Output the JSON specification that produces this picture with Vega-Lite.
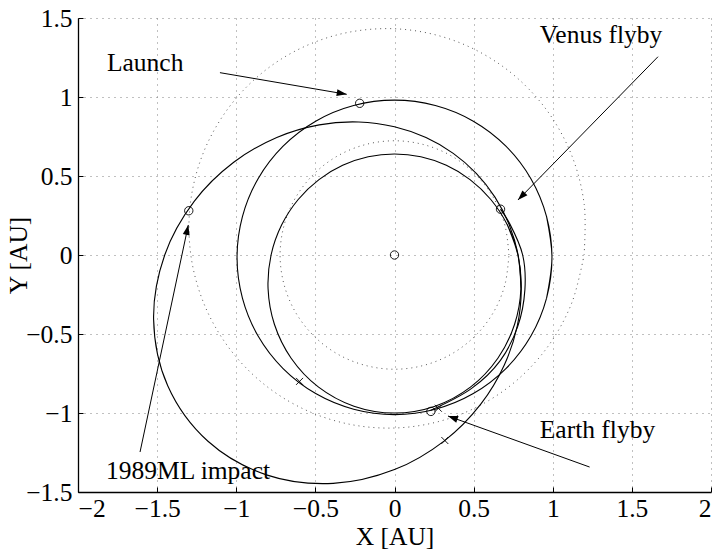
{
  "$schema": "https://vega.github.io/schema/vega-lite/v6.json",
  "width": 633,
  "height": 474,
  "autosize": {"type": "none"},
  "padding": {"left": 78, "top": 18, "right": 7, "bottom": 60},
  "background": "white",
  "config": {
    "view": {"stroke": null},
    "font": "Liberation Serif",
    "axis": {
      "labelFont": "Liberation Serif",
      "labelFontSize": 25.5,
      "labelColor": "black",
      "titleFont": "Liberation Serif",
      "titleFontSize": 25.5,
      "titleFontWeight": "normal",
      "titleColor": "black",
      "domainColor": "black",
      "domainWidth": 1.3,
      "tickColor": "black",
      "tickSize": -5,
      "grid": true,
      "gridColor": "#808080",
      "gridDash": [1, 5],
      "gridWidth": 1,
      "format": "~g"
    }
  },
  "datasets": {
    "solid": [
      {"o": "Earth", "i": 0, "x": 0.961, "y": -0.273},
      {"o": "Earth", "i": 1, "x": 0.995, "y": -0.015},
      {"o": "Earth", "i": 2, "x": 0.961, "y": 0.243},
      {"o": "Earth", "i": 3, "x": 0.862, "y": 0.483},
      {"o": "Earth", "i": 4, "x": 0.704, "y": 0.689},
      {"o": "Earth", "i": 5, "x": 0.498, "y": 0.847},
      {"o": "Earth", "i": 6, "x": 0.258, "y": 0.946},
      {"o": "Earth", "i": 7, "x": 0, "y": 0.98},
      {"o": "Earth", "i": 8, "x": -0.258, "y": 0.946},
      {"o": "Earth", "i": 9, "x": -0.498, "y": 0.847},
      {"o": "Earth", "i": 10, "x": -0.704, "y": 0.689},
      {"o": "Earth", "i": 11, "x": -0.862, "y": 0.483},
      {"o": "Earth", "i": 12, "x": -0.961, "y": 0.243},
      {"o": "Earth", "i": 13, "x": -0.995, "y": -0.015},
      {"o": "Earth", "i": 14, "x": -0.961, "y": -0.273},
      {"o": "Earth", "i": 15, "x": -0.862, "y": -0.513},
      {"o": "Earth", "i": 16, "x": -0.704, "y": -0.719},
      {"o": "Earth", "i": 17, "x": -0.498, "y": -0.877},
      {"o": "Earth", "i": 18, "x": -0.258, "y": -0.976},
      {"o": "Earth", "i": 19, "x": 0, "y": -1.01},
      {"o": "Earth", "i": 20, "x": 0.258, "y": -0.976},
      {"o": "Earth", "i": 21, "x": 0.498, "y": -0.877},
      {"o": "Earth", "i": 22, "x": 0.704, "y": -0.719},
      {"o": "Earth", "i": 23, "x": 0.862, "y": -0.513},
      {"o": "Earth", "i": 24, "x": 0.961, "y": -0.273},
      {"o": "Earth", "i": 25, "x": 0.995, "y": -0.015},
      {"o": "Earth", "i": 26, "x": 0.961, "y": 0.243},

      {"o": "Transfer", "i": 0, "x": 0.7989, "y": -0.2141},
      {"o": "Transfer", "i": 1, "x": 0.78, "y": 0},
      {"o": "Transfer", "i": 2, "x": 0.7128, "y": 0.191},
      {"o": "Transfer", "i": 3, "x": 0.6086, "y": 0.3514},
      {"o": "Transfer", "i": 4, "x": 0.4773, "y": 0.4773},
      {"o": "Transfer", "i": 5, "x": 0.3276, "y": 0.5674},
      {"o": "Transfer", "i": 6, "x": 0.1665, "y": 0.6214},
      {"o": "Transfer", "i": 7, "x": 0, "y": 0.6393},
      {"o": "Transfer", "i": 8, "x": -0.1665, "y": 0.6214},
      {"o": "Transfer", "i": 9, "x": -0.3276, "y": 0.5674},
      {"o": "Transfer", "i": 10, "x": -0.4773, "y": 0.4773},
      {"o": "Transfer", "i": 11, "x": -0.6086, "y": 0.3514},
      {"o": "Transfer", "i": 12, "x": -0.7128, "y": 0.191},
      {"o": "Transfer", "i": 13, "x": -0.78, "y": 0},
      {"o": "Transfer", "i": 14, "x": -0.7989, "y": -0.2141},
      {"o": "Transfer", "i": 15, "x": -0.759, "y": -0.4382},
      {"o": "Transfer", "i": 16, "x": -0.6531, "y": -0.6531},
      {"o": "Transfer", "i": 17, "x": -0.4818, "y": -0.8345},
      {"o": "Transfer", "i": 18, "x": -0.2563, "y": -0.9567},
      {"o": "Transfer", "i": 19, "x": 0, "y": -1.0},
      {"o": "Transfer", "i": 20, "x": 0.2563, "y": -0.9567},
      {"o": "Transfer", "i": 21, "x": 0.4818, "y": -0.8345},
      {"o": "Transfer", "i": 22, "x": 0.6531, "y": -0.6531},
      {"o": "Transfer", "i": 23, "x": 0.759, "y": -0.4382},
      {"o": "Transfer", "i": 24, "x": 0.7989, "y": -0.2141},
      {"o": "Transfer", "i": 25, "x": 0.78, "y": 0},
      {"o": "Transfer", "i": 26, "x": 0.7128, "y": 0.191},

      {"o": "Impact", "i": 0, "x": 0.8011, "y": -0.2147},
      {"o": "Impact", "i": 1, "x": 0.7814, "y": 0},
      {"o": "Impact", "i": 2, "x": 0.7241, "y": 0.194},
      {"o": "Impact", "i": 3, "x": 0.6348, "y": 0.3665},
      {"o": "Impact", "i": 4, "x": 0.5167, "y": 0.5167},
      {"o": "Impact", "i": 5, "x": 0.3712, "y": 0.643},
      {"o": "Impact", "i": 6, "x": 0.199, "y": 0.7429},
      {"o": "Impact", "i": 7, "x": 0, "y": 0.8115},
      {"o": "Impact", "i": 8, "x": -0.2256, "y": 0.8419},
      {"o": "Impact", "i": 9, "x": -0.4756, "y": 0.8238},
      {"o": "Impact", "i": 10, "x": -0.7439, "y": 0.7439},
      {"o": "Impact", "i": 11, "x": -1.0161, "y": 0.5867},
      {"o": "Impact", "i": 12, "x": -1.2659, "y": 0.3392},
      {"o": "Impact", "i": 13, "x": -1.452, "y": 0},
      {"o": "Impact", "i": 14, "x": -1.5222, "y": -0.4078},
      {"o": "Impact", "i": 15, "x": -1.433, "y": -0.8274},
      {"o": "Impact", "i": 16, "x": -1.1787, "y": -1.1787},
      {"o": "Impact", "i": 17, "x": -0.8043, "y": -1.3931},
      {"o": "Impact", "i": 18, "x": -0.3873, "y": -1.4455},
      {"o": "Impact", "i": 19, "x": 0, "y": -1.3583},
      {"o": "Impact", "i": 20, "x": 0.3152, "y": -1.1763},
      {"o": "Impact", "i": 21, "x": 0.5451, "y": -0.9441},
      {"o": "Impact", "i": 22, "x": 0.6947, "y": -0.6947},
      {"o": "Impact", "i": 23, "x": 0.7759, "y": -0.448},
      {"o": "Impact", "i": 24, "x": 0.8011, "y": -0.2147},
      {"o": "Impact", "i": 25, "x": 0.7814, "y": 0},
      {"o": "Impact", "i": 26, "x": 0.7241, "y": 0.194},

      {"o": "Venus leg", "i": 0, "x": 0.227, "y": -0.984},
      {"o": "Venus leg", "i": 1, "x": 0.4875, "y": -0.8444},
      {"o": "Venus leg", "i": 2, "x": 0.6682, "y": -0.6682},
      {"o": "Venus leg", "i": 3, "x": 0.7794, "y": -0.45},
      {"o": "Venus leg", "i": 4, "x": 0.8239, "y": -0.2208},
      {"o": "Venus leg", "i": 5, "x": 0.81, "y": 0},
      {"o": "Venus leg", "i": 6, "x": 0.7293, "y": 0.1954},
      {"o": "Venus leg", "i": 7, "x": 0.67, "y": 0.29}
    ],
    "dotted": [
      {"o": "Venus", "i": 0, "x": 0.723, "y": 0},
      {"o": "Venus", "i": 1, "x": 0.698, "y": 0.187},
      {"o": "Venus", "i": 2, "x": 0.626, "y": 0.3615},
      {"o": "Venus", "i": 3, "x": 0.511, "y": 0.511},
      {"o": "Venus", "i": 4, "x": 0.3615, "y": 0.626},
      {"o": "Venus", "i": 5, "x": 0.187, "y": 0.698},
      {"o": "Venus", "i": 6, "x": 0, "y": 0.723},
      {"o": "Venus", "i": 7, "x": -0.187, "y": 0.698},
      {"o": "Venus", "i": 8, "x": -0.3615, "y": 0.626},
      {"o": "Venus", "i": 9, "x": -0.511, "y": 0.511},
      {"o": "Venus", "i": 10, "x": -0.626, "y": 0.3615},
      {"o": "Venus", "i": 11, "x": -0.698, "y": 0.187},
      {"o": "Venus", "i": 12, "x": -0.723, "y": 0},
      {"o": "Venus", "i": 13, "x": -0.698, "y": -0.187},
      {"o": "Venus", "i": 14, "x": -0.626, "y": -0.3615},
      {"o": "Venus", "i": 15, "x": -0.511, "y": -0.511},
      {"o": "Venus", "i": 16, "x": -0.3615, "y": -0.626},
      {"o": "Venus", "i": 17, "x": -0.187, "y": -0.698},
      {"o": "Venus", "i": 18, "x": 0, "y": -0.723},
      {"o": "Venus", "i": 19, "x": 0.187, "y": -0.698},
      {"o": "Venus", "i": 20, "x": 0.3615, "y": -0.626},
      {"o": "Venus", "i": 21, "x": 0.511, "y": -0.511},
      {"o": "Venus", "i": 22, "x": 0.626, "y": -0.3615},
      {"o": "Venus", "i": 23, "x": 0.698, "y": -0.187},
      {"o": "Venus", "i": 24, "x": 0.723, "y": 0},

      {"o": "1989ML", "i": 0, "x": 1.198, "y": 0},
      {"o": "1989ML", "i": 1, "x": 1.1987, "y": 0.3212},
      {"o": "1989ML", "i": 2, "x": 1.1146, "y": 0.6435},
      {"o": "1989ML", "i": 3, "x": 0.9426, "y": 0.9426},
      {"o": "1989ML", "i": 4, "x": 0.6876, "y": 1.191},
      {"o": "1989ML", "i": 5, "x": 0.3648, "y": 1.3614},
      {"o": "1989ML", "i": 6, "x": 0, "y": 1.4319},
      {"o": "1989ML", "i": 7, "x": -0.3726, "y": 1.3906},
      {"o": "1989ML", "i": 8, "x": -0.716, "y": 1.24},
      {"o": "1989ML", "i": 9, "x": -0.9966, "y": 0.9966},
      {"o": "1989ML", "i": 10, "x": -1.1909, "y": 0.6876},
      {"o": "1989ML", "i": 11, "x": -1.2876, "y": 0.345},
      {"o": "1989ML", "i": 12, "x": -1.287, "y": 0},
      {"o": "1989ML", "i": 13, "x": -1.1987, "y": -0.3212},
      {"o": "1989ML", "i": 14, "x": -1.0377, "y": -0.5991},
      {"o": "1989ML", "i": 15, "x": -0.8209, "y": -0.8209},
      {"o": "1989ML", "i": 16, "x": -0.5653, "y": -0.9792},
      {"o": "1989ML", "i": 17, "x": -0.2869, "y": -1.0707},
      {"o": "1989ML", "i": 18, "x": 0, "y": -1.095},
      {"o": "1989ML", "i": 19, "x": 0.2822, "y": -1.0533},
      {"o": "1989ML", "i": 20, "x": 0.5475, "y": -0.9483},
      {"o": "1989ML", "i": 21, "x": 0.7838, "y": -0.7838},
      {"o": "1989ML", "i": 22, "x": 0.9792, "y": -0.5653},
      {"o": "1989ML", "i": 23, "x": 1.1213, "y": -0.3005},
      {"o": "1989ML", "i": 24, "x": 1.198, "y": 0}
    ],
    "events": [
      {"event": "Launch", "kind": "o", "x": -0.22, "y": 0.96},
      {"event": "Venus flyby", "kind": "o", "x": 0.67, "y": 0.29},
      {"event": "Earth flyby", "kind": "o", "x": 0.23, "y": -0.99},
      {"event": "1989ML impact", "kind": "o", "x": -1.3, "y": 0.28},
      {"event": "Sun", "kind": "o", "x": 0, "y": 0},
      {"event": "mark", "kind": "x", "x": -0.6, "y": -0.8},
      {"event": "mark", "kind": "x", "x": 0.318, "y": -1.174},
      {"event": "mark", "kind": "x", "x": 0.277, "y": -0.97}
    ],
    "arrows": [
      {"to": "Launch", "x0": -1.103, "y0": 1.154, "x1": -0.302, "y1": 1.017},
      {"to": "Venus flyby", "x0": 1.665, "y0": 1.255, "x1": 0.78, "y1": 0.348},
      {"to": "Earth flyby", "x0": 1.233, "y0": -1.342, "x1": 0.338, "y1": -1.019},
      {"to": "1989ML impact", "x0": -1.608, "y0": -1.247, "x1": -1.303, "y1": 0.19}
    ],
    "labels": [
      {"text": "Launch", "x": -1.817, "y": 1.162},
      {"text": "Venus flyby", "x": 0.918, "y": 1.34},
      {"text": "Earth flyby", "x": 0.918, "y": -1.158},
      {"text": "1989ML impact", "x": -1.823, "y": -1.416}
    ]
  },
  "layer": [
    {
      "data": {"name": "dotted"},
      "mark": {"type": "line", "interpolate": "catmull-rom", "stroke": "#555555", "strokeWidth": 1, "strokeDash": [1, 4]},
      "encoding": {
        "x": {
          "field": "x", "type": "quantitative",
          "scale": {"domain": [-2, 2], "nice": false, "zero": false},
          "axis": {"values": [-2, -1.5, -1, -0.5, 0, 0.5, 1, 1.5, 2], "title": "X [AU]", "labelPadding": 9, "titlePadding": 3}
        },
        "y": {
          "field": "y", "type": "quantitative",
          "scale": {"domain": [-1.5, 1.5], "nice": false, "zero": false},
          "axis": {"values": [-1.5, -1, -0.5, 0, 0.5, 1, 1.5], "title": "Y [AU]", "labelPadding": 11, "titlePadding": -6}
        },
        "detail": {"field": "o"},
        "order": {"field": "i", "type": "quantitative"}
      }
    },
    {
      "data": {"name": "solid"},
      "mark": {"type": "line", "interpolate": "catmull-rom", "stroke": "black", "strokeWidth": 1.1},
      "encoding": {
        "x": {"field": "x", "type": "quantitative"},
        "y": {"field": "y", "type": "quantitative"},
        "detail": {"field": "o"},
        "order": {"field": "i", "type": "quantitative"}
      }
    },
    {
      "data": {"name": "events"},
      "transform": [{"filter": "datum.kind === 'o'"}],
      "mark": {"type": "point", "shape": "circle", "size": 70, "filled": false, "stroke": "black", "strokeWidth": 0.9, "opacity": 1},
      "encoding": {
        "x": {"field": "x", "type": "quantitative"},
        "y": {"field": "y", "type": "quantitative"}
      }
    },
    {
      "data": {"name": "events"},
      "transform": [{"filter": "datum.kind === 'x'"}],
      "mark": {"type": "point", "shape": "M-1,-1L1,1M-1,1L1,-1", "size": 49, "filled": false, "stroke": "black", "strokeWidth": 0.9, "opacity": 1},
      "encoding": {
        "x": {"field": "x", "type": "quantitative"},
        "y": {"field": "y", "type": "quantitative"}
      }
    },
    {
      "data": {"name": "arrows"},
      "mark": {"type": "rule", "stroke": "black", "strokeWidth": 1},
      "encoding": {
        "x": {"field": "x0", "type": "quantitative"},
        "y": {"field": "y0", "type": "quantitative"},
        "x2": {"field": "x1"},
        "y2": {"field": "y1"}
      }
    },
    {
      "data": {"name": "arrows"},
      "transform": [{"filter": "datum.to === 'Launch'"}],
      "mark": {"type": "point", "shape": "M0,0L-2,-0.7L-2,0.7Z", "size": 100, "filled": true, "fill": "black", "strokeWidth": 0, "opacity": 1, "angle": 9.7},
      "encoding": {
        "x": {"field": "x1", "type": "quantitative"},
        "y": {"field": "y1", "type": "quantitative"}
      }
    },
    {
      "data": {"name": "arrows"},
      "transform": [{"filter": "datum.to === 'Venus flyby'"}],
      "mark": {"type": "point", "shape": "M0,0L-2,-0.7L-2,0.7Z", "size": 100, "filled": true, "fill": "black", "strokeWidth": 0, "opacity": 1, "angle": 134.3},
      "encoding": {
        "x": {"field": "x1", "type": "quantitative"},
        "y": {"field": "y1", "type": "quantitative"}
      }
    },
    {
      "data": {"name": "arrows"},
      "transform": [{"filter": "datum.to === 'Earth flyby'"}],
      "mark": {"type": "point", "shape": "M0,0L-2,-0.7L-2,0.7Z", "size": 100, "filled": true, "fill": "black", "strokeWidth": 0, "opacity": 1, "angle": -160.2},
      "encoding": {
        "x": {"field": "x1", "type": "quantitative"},
        "y": {"field": "y1", "type": "quantitative"}
      }
    },
    {
      "data": {"name": "arrows"},
      "transform": [{"filter": "datum.to === '1989ML impact'"}],
      "mark": {"type": "point", "shape": "M0,0L-2,-0.7L-2,0.7Z", "size": 100, "filled": true, "fill": "black", "strokeWidth": 0, "opacity": 1, "angle": -78},
      "encoding": {
        "x": {"field": "x1", "type": "quantitative"},
        "y": {"field": "y1", "type": "quantitative"}
      }
    },
    {
      "data": {"name": "labels"},
      "mark": {"type": "text", "font": "Liberation Serif", "fontSize": 25.5, "color": "black", "align": "left", "baseline": "alphabetic"},
      "encoding": {
        "x": {"field": "x", "type": "quantitative"},
        "y": {"field": "y", "type": "quantitative"},
        "text": {"field": "text"}
      }
    }
  ]
}
